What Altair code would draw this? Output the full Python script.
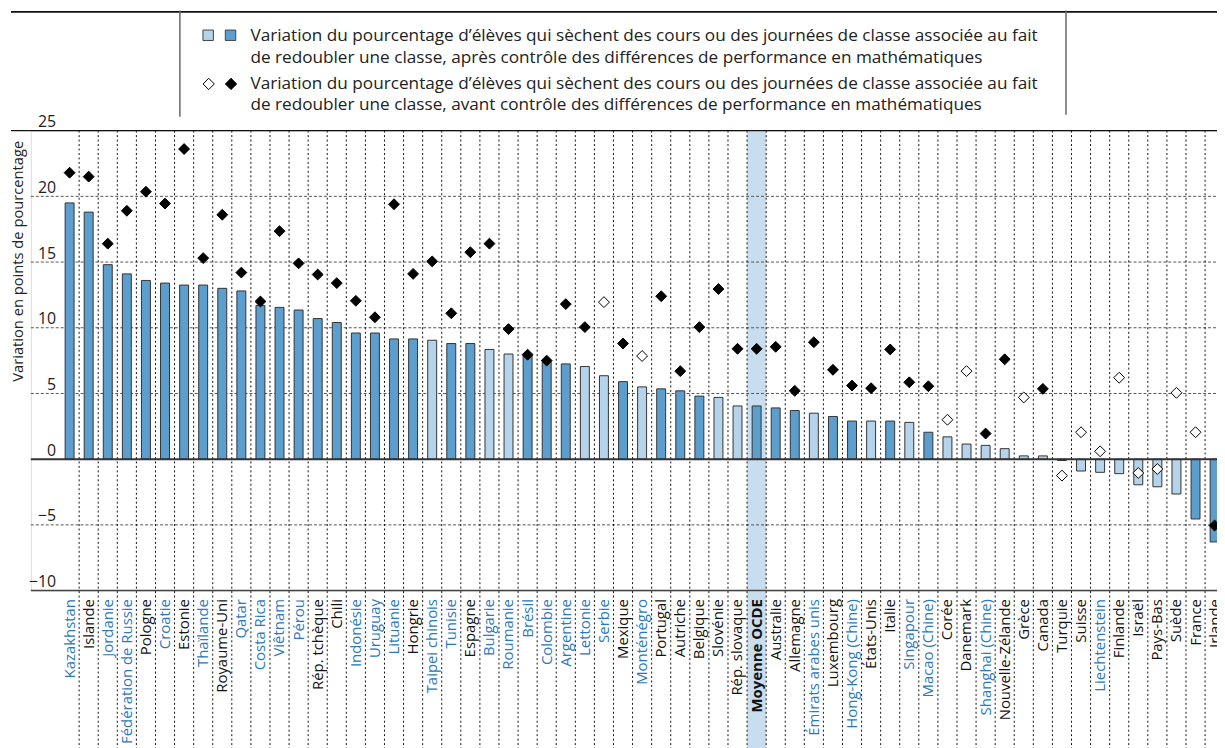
import altair as alt
import pandas as pd

cats = ["Kazakhstan", "Islande", "Jordanie", "Fédération de Russie", "Pologne", "Croatie",
        "Estonie", "Thaïlande", "Royaume-Uni", "Qatar", "Costa Rica", "Viêtnam", "Pérou",
        "Rép. tchèque", "Chili", "Indonésie", "Uruguay", "Lituanie", "Hongrie", "Taipei chinois",
        "Tunisie", "Espagne", "Bulgarie", "Roumanie", "Brésil", "Colombie", "Argentine",
        "Lettonie", "Serbie", "Mexique", "Monténégro", "Portugal", "Autriche", "Belgique",
        "Slovénie", "Rép. slovaque", "Moyenne OCDE", "Australie", "Allemagne",
        "Émirats arabes unis", "Luxembourg", "Hong-Kong (Chine)", "États-Unis", "Italie",
        "Singapour", "Macao (Chine)", "Corée", "Danemark", "Shanghai (Chine)",
        "Nouvelle-Zélande", "Grèce", "Canada", "Turquie", "Suisse", "Liechtenstein",
        "Finlande", "Israël", "Pays-Bas", "Suède", "France", "Irlande"]

after = [19.5, 18.8, 14.8, 14.1, 13.6, 13.4, 13.25, 13.25, 13.0, 12.8, 11.7, 11.55, 11.35,
         10.7, 10.4, 9.6, 9.6, 9.15, 9.15, 9.05, 8.8, 8.8, 8.35, 8.0, 7.9, 7.4, 7.25,
         7.05, 6.35, 5.9, 5.5, 5.35, 5.2, 4.8, 4.7, 4.05, 4.05, 3.9, 3.7,
         3.5, 3.25, 2.9, 2.9, 2.9, 2.8, 2.05, 1.7, 1.15, 1.05, 0.8, 0.25, 0.25, -0.1,
         -0.9, -1.0, -1.1, -1.95, -2.1, -2.65, -4.55, -6.3]

before = [21.8, 21.5, 16.4, 18.9, 20.35, 19.45, 23.6, 15.3, 18.6, 14.2, 12.0, 17.35, 14.9,
          14.05, 13.4, 12.05, 10.8, 19.4, 14.1, 15.05, 11.1, 15.75, 16.4, 9.9, 7.95, 7.5, 11.8,
          10.05, 11.95, 8.8, 7.85, 12.4, 6.7, 10.05, 12.95, 8.4, 8.4, 8.55, 5.2,
          8.9, 6.8, 5.6, 5.4, 8.35, 5.85, 5.55, 3.0, 6.7, 1.95, 7.6, 4.7, 5.35, -1.25,
          2.05, 0.6, 6.2, -1.05, -0.75, 5.05, 2.05, -5.05]

light_bars = ["Taipei chinois", "Bulgarie", "Roumanie", "Lettonie", "Serbie", "Monténégro",
              "Slovénie", "Rép. slovaque", "Émirats arabes unis", "États-Unis", "Singapour",
              "Corée", "Danemark", "Shanghai (Chine)", "Nouvelle-Zélande", "Grèce", "Canada",
              "Suisse", "Liechtenstein", "Finlande", "Israël", "Pays-Bas", "Suède"]

hollow_points = ["Serbie", "Monténégro", "Corée", "Danemark", "Grèce", "Turquie", "Suisse",
                 "Liechtenstein", "Finlande", "Israël", "Pays-Bas", "Suède", "France"]

partners = ["Kazakhstan", "Jordanie", "Fédération de Russie", "Croatie", "Thaïlande", "Qatar",
            "Costa Rica", "Viêtnam", "Pérou", "Indonésie", "Uruguay", "Lituanie",
            "Taipei chinois", "Tunisie", "Bulgarie", "Roumanie", "Brésil", "Colombie",
            "Argentine", "Lettonie", "Serbie", "Monténégro", "Émirats arabes unis",
            "Hong-Kong (Chine)", "Singapour", "Macao (Chine)", "Shanghai (Chine)", "Liechtenstein"]

grid_values = [-5, 5, 10, 15, 20]
y_ticks = [-10, -5, 0, 5, 10, 15, 20, 25]

legend_lines = [
    "Variation du pourcentage d’élèves qui sèchent des cours ou des journées de classe associée au fait",
    "de redoubler une classe, après contrôle des différences de performance en mathématiques",
    "Variation du pourcentage d’élèves qui sèchent des cours ou des journées de classe associée au fait",
    "de redoubler une classe, avant contrôle des différences de performance en mathématiques",
]
legend_line_y = [-95, -73.5, -47, -25.5]

FONT = "Open Sans"
W, H = 1194, 463
DARK, LIGHT, HIGHLIGHT = "#5C9ECE", "#B5D3EB", "#C8DEEF"
BLUE_TXT = "#2A78BE"

df = pd.DataFrame({
    "cat": cats,
    "after": after,
    "before": before,
    "sig": ["light" if c in light_bars else "dark" for c in cats],
    "pt": ["hollow" if c in hollow_points else "filled" for c in cats],
})

xscale = alt.Scale(domain=cats, range=[29.4, 29.4 + 61 * 19.21], paddingInner=0, paddingOuter=0)
yscale = alt.Scale(domain=[-10, 25], nice=False, zero=False)

label_color_expr = ("indexof(" + str(partners).replace('"', "'") +
                    ", datum.value) >= 0 ? '" + BLUE_TXT + "' : '#111111'")

xaxis = alt.Axis(orient="bottom", title=None, labelAngle=270, labelAlign="right",
                 labelBaseline="middle", labelPadding=8, ticks=False, domain=False,
                 grid=False, labelFontSize=15, labelFont=FONT,
                 labelColor={"expr": label_color_expr},
                 labelFontWeight={"expr": "datum.value == 'Moyenne OCDE' ? 'bold' : 'normal'"},
                 labelOverlap=False, labelLimit=400)
yaxis = alt.Axis(values=y_ticks, title="Variation en points de pourcentage",
                 grid=False, domain=False, ticks=False, labelPadding=-25,
                 labelBaseline="alphabetic", labelOffset=-4, labelFontSize=16,
                 labelFont=FONT, labelColor="#222222",
                 titleFont=FONT, titleFontSize=14.8, titleFontWeight="normal",
                 titleColor="#222222", titleAngle=270, titleX=-12.5, titleY=131,
                 titleAlign="center", titleBaseline="middle")


def X(**kw):
    return alt.X("cat:N", scale=xscale, sort=cats, axis=xaxis, **kw)


def Y(field):
    return alt.Y(field, scale=yscale, axis=yaxis)


base = alt.Chart(df)
one = pd.DataFrame({"a": [0]})

highlight = alt.Chart(df[df["cat"] == "Moyenne OCDE"]).mark_rect(color=HIGHLIGHT).encode(
    x=X(), y=alt.value(0), y2=alt.value(H + 170),
)

grid_df = pd.DataFrame({"v": grid_values})
hgrid = alt.Chart(grid_df).mark_rule(color="#555555", strokeDash=[3, 2], strokeWidth=1).encode(
    y=Y("v:Q"), x=alt.value(0), x2=alt.value(W),
)

vgrid = base.mark_rule(color="#111111", strokeDash=[2, 2.5], strokeWidth=1).encode(
    x=X(bandPosition=1), y=alt.value(0), y2=alt.value(H + 170),
)

bars = base.mark_bar(width=9, stroke="#333333", strokeWidth=1).encode(
    x=X(),
    y=Y("after:Q"),
    y2=alt.datum(0),
    fill=alt.Fill("sig:N", scale=alt.Scale(domain=["dark", "light"], range=[DARK, LIGHT]), legend=None),
)


def hline(value, color, width, x0=0):
    return alt.Chart(one).transform_calculate(z=str(value)).mark_rule(
        color=color, strokeWidth=width).encode(y=Y("z:Q"), x=alt.value(x0), x2=alt.value(W))


zero_line = hline(0, "#333333", 2)
bottom_line = hline(-10, "#444444", 1.5)
top25_line = hline(25, "#111111", 1.3, x0=-20)

pts_filled = alt.Chart(df[df["pt"] == "filled"]).mark_point(
    shape="diamond", size=120, filled=True, fill="#000000", stroke="#000000",
    strokeWidth=1, opacity=1).encode(x=X(), y=Y("before:Q"))
pts_hollow = alt.Chart(df[df["pt"] == "hollow"]).mark_point(
    shape="diamond", size=120, filled=True, fill="#FFFFFF", stroke="#000000",
    strokeWidth=1, opacity=1).encode(x=X(), y=Y("before:Q"))

# legend frame
frame_top = alt.Chart(one).mark_rule(color="#111111", strokeWidth=1.8).encode(
    x=alt.value(-20), x2=alt.value(W), y=alt.value(-119.5))
frame_left = alt.Chart(one).mark_rule(color="#666666", strokeWidth=1.5).encode(
    x=alt.value(150), y=alt.value(-121), y2=alt.value(-14))
frame_right = alt.Chart(one).mark_rule(color="#666666", strokeWidth=1.5).encode(
    x=alt.value(1042), y=alt.value(-121), y2=alt.value(-16))

sq_light = alt.Chart(one).mark_square(size=110, fill=LIGHT, stroke="#444444", strokeWidth=1, opacity=1).encode(
    x=alt.value(178.5), y=alt.value(-96))
sq_dark = alt.Chart(one).mark_square(size=110, fill=DARK, stroke="#444444", strokeWidth=1, opacity=1).encode(
    x=alt.value(201), y=alt.value(-96))
dm_hollow = alt.Chart(one).mark_point(shape="diamond", size=130, fill="#FFFFFF", filled=True,
                                      stroke="#000000", strokeWidth=1, opacity=1).encode(
    x=alt.value(179), y=alt.value(-47))
dm_filled = alt.Chart(one).mark_point(shape="diamond", size=130, fill="#000000", filled=True,
                                      stroke="#000000", strokeWidth=1, opacity=1).encode(
    x=alt.value(201.5), y=alt.value(-47))

leg_texts = [
    alt.Chart(one).mark_text(align="left", baseline="middle", fontSize=17.3, font=FONT,
                             color="#222222", text=t).encode(x=alt.value(221), y=alt.value(yy))
    for t, yy in zip(legend_lines, legend_line_y)
]

chart = alt.layer(
    highlight, hgrid, vgrid, bars, zero_line, bottom_line, top25_line, pts_filled, pts_hollow,
    frame_top, frame_left, frame_right, sq_light, sq_dark, dm_hollow, dm_filled, *leg_texts,
).properties(
    width=W, height=H,
    autosize=alt.AutoSizeParams(type="none"),
    padding={"left": 23, "top": 121, "right": 0, "bottom": 156},
).configure_view(stroke=None).configure(background="white")

chart.save("out.html", embed_options={"renderer": "svg", "actions": False})
